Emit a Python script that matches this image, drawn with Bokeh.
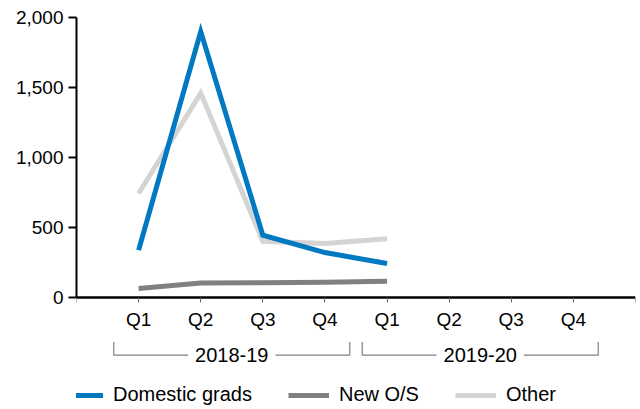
from bokeh.plotting import figure
from bokeh.models import (Range1d, FixedTicker, NumeralTickFormatter, Label,
                          Legend, LegendItem, ColumnDataSource)
from bokeh.embed import file_html
from bokeh.resources import INLINE

# ---------------- data ----------------
quarters = ["Q1", "Q2", "Q3", "Q4", "Q1", "Q2", "Q3", "Q4"]
years = ["2018-19", "2019-20"]
domestic_grads = [338, 1900, 445, 321, 243]
new_os = [64, 104, 106, 109, 116]
other = [743, 1460, 402, 386, 419]
y_ticks = [0, 500, 1000, 1500, 2000]

series_names = ["Domestic grads", "New O/S", "Other"]
series_values = [domestic_grads, new_os, other]
series_colors = ["#0079C1", "#808080", "#D4D4D4"]

FONT = "Liberation Sans"

# ---------------- layout ----------------
W, H = 638, 408
BORDER_L, BORDER_R, BORDER_T, BORDER_B = 76, 3, 17, 0
frame_h = H - BORDER_T - BORDER_B
plot_px_for_max = 280.0                 # pixels from 0 to 2000
units_per_px = y_ticks[-1] / plot_px_for_max
y_start = y_ticks[-1] - frame_h * units_per_px

n_slots = len(quarters) + 1
p = figure(width=W, height=H, output_backend="svg", toolbar_location=None,
           x_range=Range1d(0, n_slots), y_range=Range1d(y_start, y_ticks[-1]),
           min_border_left=BORDER_L, min_border_right=BORDER_R,
           min_border_top=BORDER_T, min_border_bottom=BORDER_B)
p.outline_line_color = None
p.background_fill_color = "white"
p.border_fill_color = "white"
p.xgrid.visible = False
p.ygrid.visible = False

# ---------------- series ----------------
renderers = []
x_pos = list(range(1, len(domestic_grads) + 1))
for name, vals, col in zip(series_names, series_values, series_colors):
    src = ColumnDataSource(dict(x=x_pos, y=vals))
    r = p.line("x", "y", source=src, line_color=col, line_width=5,
               line_join="miter", line_cap="butt")
    renderers.append(r)
renderers[0].level = "overlay"

# ---------------- y axis ----------------
ya = p.yaxis[0]
ya.ticker = FixedTicker(ticks=y_ticks)
ya.formatter = NumeralTickFormatter(format="0,0")
ya.bounds = (y_ticks[0], y_ticks[-1])
ya.axis_line_width = 2
ya.axis_line_color = "black"
ya.major_tick_in = 0
ya.major_tick_out = 8
ya.major_tick_line_width = 2
ya.major_tick_line_color = "black"
ya.minor_tick_line_color = None
ya.major_label_text_font = FONT
ya.major_label_text_font_size = "19px"
ya.major_label_text_color = "black"
ya.major_label_standoff = 5

# ---------------- x axis ----------------
xa = p.xaxis[0]
xa.fixed_location = 0
xa.bounds = (0, n_slots)
xa.ticker = FixedTicker(ticks=list(range(0, n_slots + 1)))
overrides = {0: "", n_slots: ""}
for i, q in enumerate(quarters):
    overrides[i + 1] = q
xa.major_label_overrides = overrides
xa.axis_line_width = 2.5
xa.axis_line_color = "black"
xa.major_tick_in = 0
xa.major_tick_out = 5
xa.major_tick_line_width = 1
xa.major_tick_line_color = "#666666"
xa.minor_tick_line_color = None
xa.major_label_text_font = FONT
xa.major_label_text_font_size = "19px"
xa.major_label_text_color = "black"
xa.major_label_standoff = 6

# ---------------- year brackets ----------------
br_top = -(44.4 * units_per_px)
br_bot = -(57.7 * units_per_px)
per_group = len(quarters) // len(years)
for k, yr in enumerate(years):
    x0 = k * per_group + 1 - 0.4
    x1 = (k + 1) * per_group + 0.4
    p.segment(x0=[x0, x0, x1], y0=[br_top, br_bot, br_top],
              x1=[x0, x1, x1], y1=[br_bot, br_bot, br_bot],
              line_color="#808080", line_width=1.2)
    lab = Label(x=(x0 + x1) / 2, y=br_bot, text=yr, text_align="center",
                text_baseline="middle", text_font=FONT, text_font_size="20px",
                text_color="black", background_fill_color="white",
                padding=7)
    p.add_layout(lab)

# ---------------- legend ----------------
items = [LegendItem(label=n, renderers=[r]) for n, r in zip(series_names, renderers)]
legend = Legend(items=items, orientation="horizontal", location=(-14, 2),
                glyph_width=41, glyph_height=20, label_height=20,
                label_standoff=10, spacing=36, padding=0, margin=0,
                border_line_color=None, background_fill_alpha=0,
                label_text_font=FONT, label_text_font_size="20px",
                label_text_color="black")
p.add_layout(legend, "center")

open("out.html", "w").write(file_html(p, INLINE))
